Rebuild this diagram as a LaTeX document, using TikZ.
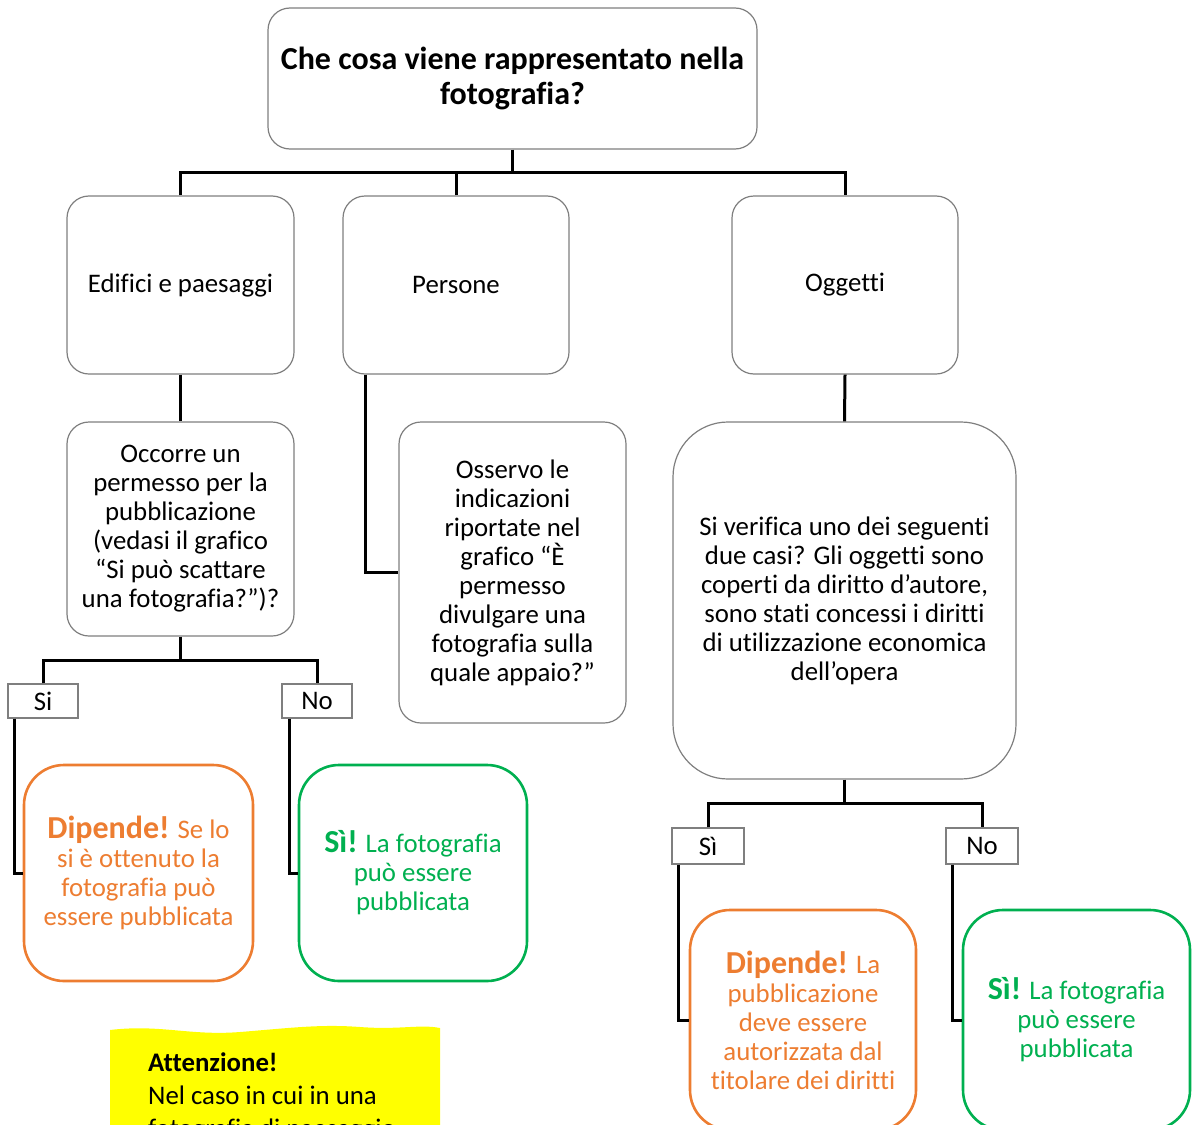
\documentclass[tikz,border=0pt]{standalone}
\usepackage{fontspec}
\setmainfont{Carlito}[RawFeature={-liga;-clig}]
\definecolor{borange}{HTML}{ED7D31}
\definecolor{bgreen}{HTML}{00B050}
\definecolor{bgray}{HTML}{7F7F7F}
\definecolor{byellow}{HTML}{FFFF00}
\begin{document}
\begin{tikzpicture}[x=1pt,y=-1pt,
  txt/.style={font=\fontsize{26.8}{29}\selectfont},
  box/.style={txt, draw=bgray, line width=1.2pt, rounded corners=22pt, align=center, inner sep=0pt, fill=white},
  lab/.style={txt, draw=bgray, line width=1.2pt, fill=white, minimum width=70pt, minimum height=34pt, inner sep=0pt},
  obox/.style={box, draw=borange, line width=2.6pt, rounded corners=40pt, text=borange},
  gbox/.style={box, draw=bgreen, line width=2.6pt, rounded corners=40pt, text=bgreen},
  conn/.style={line width=3pt, black}]
\useasboundingbox (0,0) rectangle (1193,1124);

% yellow note
\fill[byellow] (110,1030) .. controls (160,1024) and (190,1036) .. (240,1032)
  .. controls (290,1028) and (320,1024) .. (360,1027)
  .. controls (400,1030) and (420,1024) .. (440,1028) -- (440,1140) -- (110,1140) -- cycle;
\node[anchor=north west, align=left, inner sep=0pt, font=\fontsize{26.8}{33}\selectfont] (note) at (148,1052.5)
  {\textbf{Attenzione!}\\Nel caso in cui in una\\fotografia di paesaggio};

% main nodes
\node[box, font=\bfseries\fontsize{32}{35}\selectfont, minimum width=489pt, minimum height=141pt] (title) at (512.5,78.5)
  {Che cosa viene rappresentato nella\\fotografia?};
\node[box, minimum width=227pt, minimum height=178pt] (edif) at (180.5,285) {Edifici e paesaggi};
\node[box, minimum width=226pt, minimum height=178pt] (pers) at (456,285) {Persone};
\node[box, minimum width=226pt, minimum height=178pt] (oggt) at (845,285) {Oggetti};
\node[box, minimum width=227pt, minimum height=214pt] (occ) at (180.5,529)
  {Occorre un\\permesso per la\\pubblicazione\\(vedasi il grafico\\“Si può scattare\\una fotografia?”)?};
\node[box, minimum width=227pt, minimum height=301pt] (oss) at (512.5,572.5)
  {Osservo le\\indicazioni\\riportate nel\\grafico “È\\permesso\\divulgare una\\fotografia sulla\\quale appaio?”};
\node[box, rounded corners=55pt, minimum width=343pt, minimum height=357pt] (ver) at (844.5,600.5)
  {Si verifica uno dei seguenti\\due casi? Gli oggetti sono\\coperti da diritto d’autore,\\sono stati concessi i diritti\\di utilizzazione economica\\dell’opera};

% labels
\node[lab] (siL) at (43,701) {Si};
\node[lab] (noL) at (317,701) {No};
\node[lab, minimum width=72pt, minimum height=36pt] (siR) at (708,846) {Sì};
\node[lab, minimum width=72pt, minimum height=36pt] (noR) at (982,846) {No};

% outcome boxes
\node[obox, minimum width=229pt, minimum height=216pt] (or1) at (138.5,873)
  {{\bfseries\fontsize{32}{29}\selectfont Dipende!} Se lo\\si è ottenuto la\\fotografia può\\essere pubblicata};
\node[gbox, minimum width=228pt, minimum height=216pt] (gr1) at (413,873)
  {{\bfseries\fontsize{32}{29}\selectfont Sì!} La fotografia\\può essere\\pubblicata};
\node[obox, minimum width=226pt, minimum height=220pt] (or2) at (803,1020)
  {{\bfseries\fontsize{32}{29}\selectfont Dipende!} La\\pubblicazione\\deve essere\\autorizzata dal\\titolare dei diritti};
\node[gbox, minimum width=227pt, minimum height=220pt] (gr2) at (1076.5,1020)
  {{\bfseries\fontsize{32}{29}\selectfont Sì!} La fotografia\\può essere\\pubblicata};

% connectors
\coordinate (busA) at (0,172);
\coordinate (busB) at (0,660);
\coordinate (busC) at (0,803);
\draw[conn] (title.south) -- (title.south |- busA);
\draw[conn] (edif.north) -- (edif.north |- busA) -- (oggt.north |- busA) -- (oggt.north);
\draw[conn] (pers.north) -- (pers.north |- busA);
\draw[conn] (edif.south) -- (occ.north);
\draw[conn] ([xshift=23pt]pers.south west) |- (oss.west);
\draw[conn] (oggt.south) -- (ver.north);
\draw[conn] (occ.south) -- (occ.south |- busB);
\draw[conn] (siL.north) -- (siL.north |- busB) -- (noL.north |- busB) -- (noL.north);
\draw[conn] ([xshift=7pt]siL.south west) |- (or1.west);
\draw[conn] ([xshift=8pt]noL.south west) |- (gr1.west);
\draw[conn] (ver.south) -- (ver.south |- busC);
\draw[conn] (siR.north) -- (siR.north |- busC) -- (noR.north |- busC) -- (noR.north);
\draw[conn] ([xshift=7pt]siR.south west) |- (or2.west);
\draw[conn] ([xshift=7pt]noR.south west) |- (gr2.west);
\end{tikzpicture}
\end{document}
